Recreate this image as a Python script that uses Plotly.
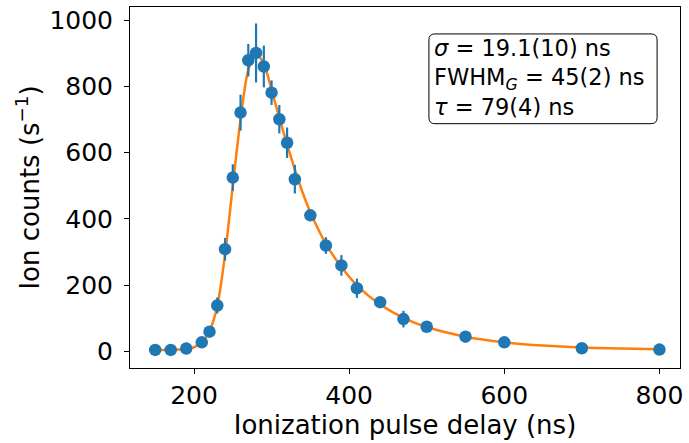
import plotly.graph_objects as go

# Measured data
delay_ns = [150, 170, 190, 210, 220, 230, 240, 250, 260, 270, 280, 290, 300, 310,
            320, 330, 350, 370, 390, 410, 440, 470, 500, 550, 600, 700, 800]
counts = [5, 5, 9, 28, 60, 139, 309, 525, 721, 879, 901, 860, 781, 701,
          630, 520, 411, 320, 260, 191, 149, 98, 75, 45, 28, 10, 6]
count_err = [3, 3, 4, 8, 10, 24, 34, 40, 54, 49, 89, 63, 37, 43,
             46, 43, 15, 25, 31, 29, 12, 25, 10, 8, 6, 5, 4]

# Fit curve
fit_x = [150, 170, 190, 200, 210, 220, 230, 240, 250, 260, 270, 280, 290, 300,
         310, 320, 330, 340, 350, 370, 390, 410, 440, 470, 500, 550, 600, 650,
         700, 750, 800]
fit_y = [5, 5, 8, 13, 27, 62, 137, 292, 500, 700, 850, 898, 868, 790,
         705, 625, 550, 480, 420, 325, 255, 200, 142, 102, 74, 45, 28, 18,
         12, 9, 7]

fit_text = ["<i>σ</i> = 19.1(10) ns",
            "FWHM<sub><i>G</i></sub> = 45(2) ns",
            "<i>τ</i> = 79(4) ns"]

x_ticks = [200, 400, 600, 800]
y_ticks = [0, 200, 400, 600, 800, 1000]

BLUE = "#1f77b4"
ORANGE = "#ff7f0e"
FONT = "DejaVu Sans"

fig = go.Figure()
fig.add_trace(go.Scatter(x=fit_x, y=fit_y, mode="lines",
                         line=dict(color=ORANGE, width=2.5, shape="spline", smoothing=0.8),
                         hoverinfo="skip", showlegend=False))
fig.add_trace(go.Scatter(x=delay_ns, y=counts, mode="markers",
                         marker=dict(color=BLUE, size=12.5, line=dict(width=0)),
                         error_y=dict(type="data", array=count_err, color=BLUE,
                                      thickness=2.2, width=0),
                         showlegend=False))

# rounded box (paper coords)
pw, ph = 552.0, 362.0
x0, x1 = (430 - 130) / pw, (659 - 130) / pw
y1, y0 = (368 - 33) / ph, (368 - 123) / ph
rx, ry = 6 / pw, 6 / ph
path = (f"M {x0+rx},{y1} L {x1-rx},{y1} Q {x1},{y1} {x1},{y1-ry} "
        f"L {x1},{y0+ry} Q {x1},{y0} {x1-rx},{y0} L {x0+rx},{y0} "
        f"Q {x0},{y0} {x0},{y0+ry} L {x0},{y1-ry} Q {x0},{y1} {x0+rx},{y1} Z")
fig.add_shape(type="path", path=path, xref="paper", yref="paper",
              line=dict(color="black", width=1), fillcolor="white", layer="above")
fig.add_annotation(text="<br>".join(fit_text), xref="paper", yref="paper",
                   x=(433 - 130) / pw, y=(368 - 32) / ph, xanchor="left", yanchor="top",
                   align="left", showarrow=False,
                   font=dict(family=FONT, size=22.5, color="black"))

axis_common = dict(showline=True, linecolor="black", linewidth=1, mirror=True,
                   ticks="outside", ticklen=5, tickwidth=1, tickcolor="black",
                   showgrid=False, zeroline=False,
                   tickfont=dict(family=FONT, size=25, color="black"))
fig.update_xaxes(range=[117.5, 826.5], tickvals=x_ticks,
                 title=dict(text="Ionization pulse delay (ns)",
                            font=dict(family=FONT, size=26, color="black"), standoff=6),
                 **axis_common)
fig.update_yaxes(range=[-49.5, 1039.5], tickvals=y_ticks, ticklabelstandoff=6,
                 title=dict(text="Ion counts (s<sup>−1</sup>)",
                            font=dict(family=FONT, size=26, color="black"), standoff=2),
                 **axis_common)
fig.update_layout(width=689, height=443, margin=dict(l=130, r=7, t=6, b=75),
                  plot_bgcolor="white", paper_bgcolor="white",
                  font=dict(family=FONT, color="black"))
fig.write_html("out.html")
